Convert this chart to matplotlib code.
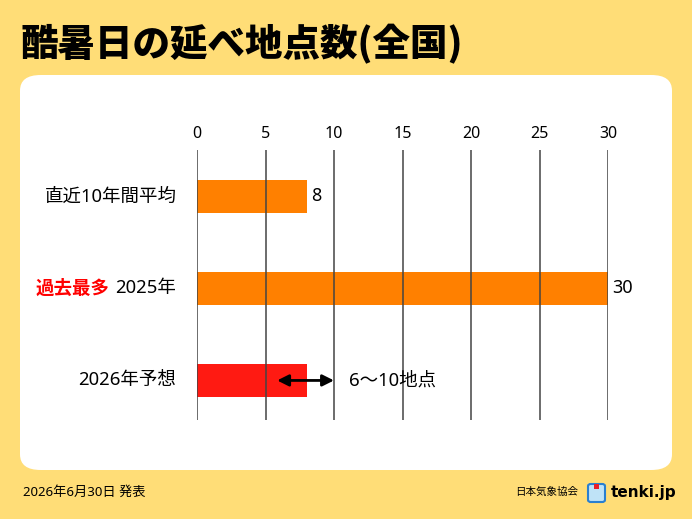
import matplotlib.pyplot as plt
from matplotlib.patches import FancyBboxPatch, Rectangle

plt.rcParams['font.family'] = ['Noto Sans', 'Noto Sans CJK JP', 'DejaVu Sans']

categories = ['直近10年間平均', '2025年', '2026年予想']
values = [8, 30, 8]
bar_colors = ['#FF8000', '#FF8000', '#FF1A12']
value_labels = ['8', '30', '']
range_low, range_high = 6, 10
range_text = '6～10地点'
xticks = [0, 5, 10, 15, 20, 25, 30]

bg = '#FFDD77'
fig = plt.figure(figsize=(6.92, 5.19), dpi=100)
fig.patch.set_facecolor(bg)

# white card behind the chart
card = FancyBboxPatch((20 / 692, 1 - 470 / 519), 652 / 692, 395 / 519,
                      boxstyle='round,pad=0,rounding_size=0.03',
                      transform=fig.transFigure, facecolor='white',
                      edgecolor='none', zorder=-5)
fig.patches.append(card)

fig.text(20 / 692, 1 - 44 / 519, '酷暑日の延べ地点数(全国)', fontsize=27,
         fontweight='heavy', va='center', ha='left',
         family=['Noto Sans CJK JP'])

ax = fig.add_axes([197 / 692, 1 - 420 / 519, 411 / 692, 270 / 519])
ax.set_zorder(1)
ax.set_facecolor('none')
y = list(range(len(categories)))
ax.barh(y, values, height=0.36, color=bar_colors, zorder=1)
ax.set_xlim(0, 30)
ax.set_ylim(2.43, -0.505)
ax.set_xticks(xticks)
ax.xaxis.tick_top()
ax.tick_params(axis='x', length=0, labelsize=11.5, pad=6)
ax.tick_params(axis='y', length=0)
ax.set_yticks([])
for s in ax.spines.values():
    s.set_visible(False)
for t in xticks:
    ax.axvline(t, color='#444444', lw=1.1, zorder=2)

for i, lab in enumerate(value_labels):
    if lab:
        ax.text(values[i] + 0.3, i, lab, va='center', ha='left', fontsize=13)

# category labels
fs = 13.3
ax.text(-1.5, 0, categories[0], ha='right', va='center', fontsize=fs)
yr = ax.text(-1.5, 1, categories[1], ha='right', va='center', fontsize=fs)
ax.text(-1.5, 2, categories[2], ha='right', va='center', fontsize=fs)
fig.canvas.draw()
bb = yr.get_window_extent()
x_left = ax.transData.inverted().transform((bb.x0 - 6, 0))[0]
ax.text(x_left, 1, '過去最多', ha='right', va='center', fontsize=fs,
        color='#FF0000', fontweight='bold')

ax.annotate('', xy=(range_low - 0.15, 2), xytext=(range_high, 2),
            arrowprops=dict(arrowstyle='<|-|>', color='black', lw=2,
                            mutation_scale=17, shrinkA=0, shrinkB=0),
            zorder=3)
ax.text(range_high + 1.1, 2, range_text, ha='left', va='center', fontsize=fs)

# footer
fig.text(23 / 692, 1 - 492 / 519, '2026年6月30日 発表', fontsize=9.5,
         va='center', ha='left')
fig.text(578 / 692, 1 - 492 / 519, '日本気象協会', fontsize=7.6,
         va='center', ha='right')
icon = FancyBboxPatch((588 / 692, 1 - 502 / 519), 17 / 692, 18 / 519,
                      boxstyle='round,pad=0,rounding_size=0.004',
                      transform=fig.transFigure, facecolor='#BFE3F7',
                      edgecolor='#2A7FD0', lw=1.5)
fig.patches.append(icon)
fig.patches.append(Rectangle((594 / 692, 1 - 489 / 519), 5 / 692, 5 / 519,
                             transform=fig.transFigure, facecolor='#E8202A',
                             edgecolor='none'))
fig.text(611 / 692, 1 - 492 / 519, 'tenki.jp', fontsize=11, fontweight='bold',
         va='center', ha='left', family=['DejaVu Sans'])

fig.savefig('out.png', dpi=100, facecolor=bg)
